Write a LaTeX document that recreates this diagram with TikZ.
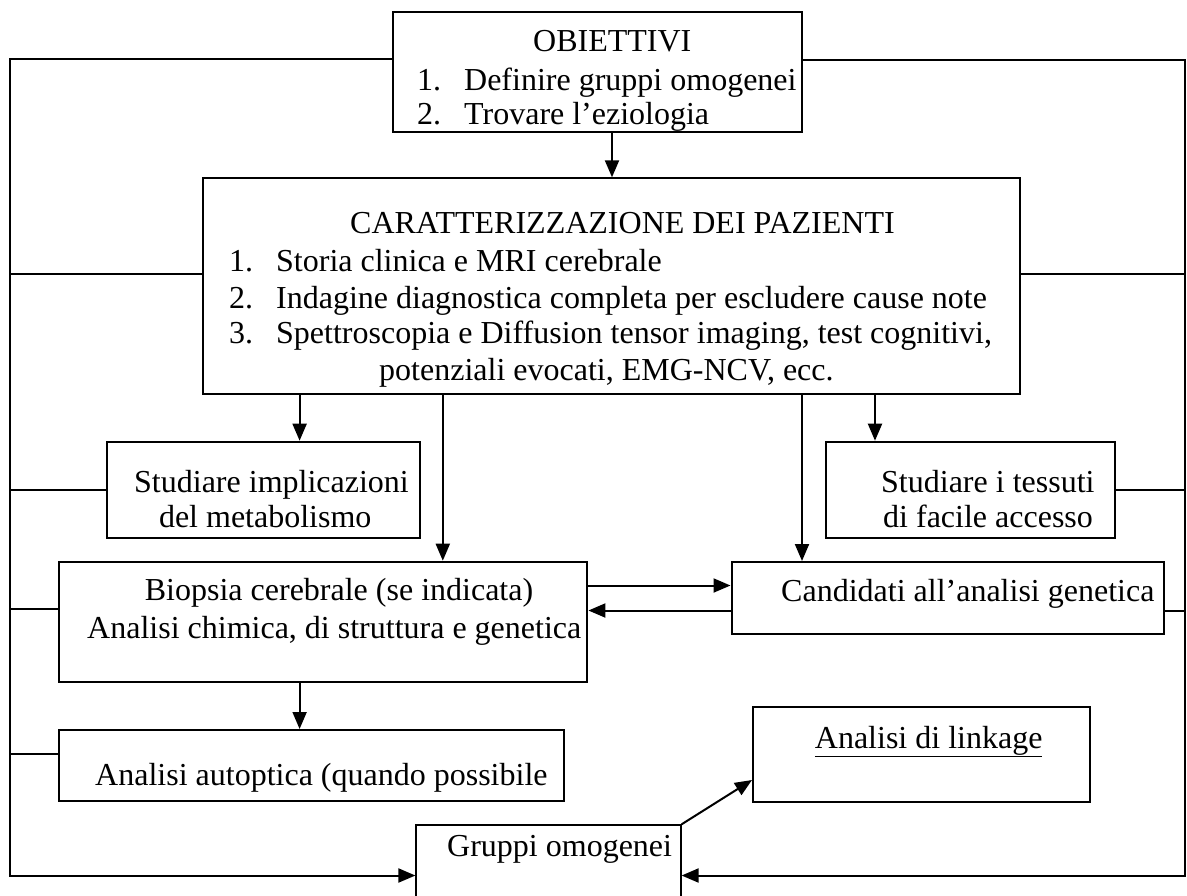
\documentclass[tikz,border=0pt]{standalone}
\usepackage{fontspec}
\setmainfont{Liberation Serif}
\usetikzlibrary{arrows.meta}
\begin{document}
\begin{tikzpicture}[x=1pt,y=-1pt,
  box/.style={draw, line width=2pt, inner sep=0pt},
  txt/.style={inner sep=0pt, anchor=base west, font=\fontsize{32}{37}\selectfont},
  wire/.style={line width=2pt},
  arr/.style={wire, -{Triangle[length=17pt,width=14pt]}}]

\path[use as bounding box, clip] (0,0) rectangle (1187,895);

% boxes
\node[box, minimum width=409pt,   minimum height=120pt]   (obj) at (597.5,71.7) {};
\node[box, minimum width=816.5pt, minimum height=215.7pt] (car) at (611.25,286.15) {};
\node[box, minimum width=313pt,   minimum height=96.3pt]  (met) at (263.5,489.85) {};
\node[box, minimum width=288.7pt, minimum height=96.3pt]  (tes) at (970.35,489.85) {};
\node[box, minimum width=528.8pt, minimum height=120pt]   (bio) at (323,621.7) {};
\node[box, minimum width=432.5pt, minimum height=71.5pt]  (can) at (947.75,597.75) {};
\node[box, minimum width=505.1pt, minimum height=71pt]    (aut) at (311.15,765.5) {};
\node[box, minimum width=337pt,   minimum height=95.3pt]  (lnk) at (921.5,754.35) {};
\node[box, minimum width=264.2pt, minimum height=89.4pt]  (grp) at (548.5,870) {};

% texts
\node[txt] (objt) at (533,51) {OBIETTIVI};
\node[txt] (obj1) at (417,90) {\makebox[47pt][l]{1.}Definire gruppi omogenei};
\node[txt] (obj2) at (417,124) {\makebox[47pt][l]{2.}Trovare l’eziologia};

\node[txt] (cart) at (350,233) {CARATTERIZZAZIONE DEI PAZIENTI};
\node[txt] (car1) at (229,271) {\makebox[47pt][l]{1.}Storia clinica e MRI cerebrale};
\node[txt] (car2) at (229,308) {\makebox[47pt][l]{2.}Indagine diagnostica completa per escludere cause note};
\node[txt] (car3) at (229,343) {\makebox[47pt][l]{3.}Spettroscopia e Diffusion tensor imaging, test cognitivi,};
\node[txt] (car4) at (379,380) {potenziali evocati, EMG-NCV, ecc.};

\node[txt] (met1) at (134,492) {Studiare implicazioni};
\node[txt] (met2) at (158.8,527) {del metabolismo};

\node[txt] (tes1) at (881,492) {Studiare i tessuti};
\node[txt] (tes2) at (883,527) {di facile accesso};

\node[txt] (bio1) at (144.7,600) {Biopsia cerebrale (se indicata)};
\node[txt] (bio2) at (87,638) {Analisi chimica, di struttura e genetica};

\node[txt] (can1) at (781,601) {Candidati all’analisi genetica};

\node[txt] (aut1) at (95,785) {Analisi autoptica (quando possibile};

\node[txt] (lnk1) at (814.7,748) {\underline{Analisi di linkage}};

\node[txt] (grp1) at (447,856) {Gruppi omogenei};

% bus ends
\coordinate (Lb) at (9.5,875.5);
\coordinate (Rb) at (1185,875.5);

% left bus
\draw[arr] (obj.west |- 0,59) -| (Lb) -- (grp.west |- Lb);
\draw[wire] (car.west |- 0,274) -- (Lb |- 0,274);
\draw[wire] (met.west |- 0,490) -- (Lb |- 0,490);
\draw[wire] (bio.west |- 0,609) -- (Lb |- 0,609);
\draw[wire] (aut.west |- 0,754) -- (Lb |- 0,754);

% right bus
\draw[arr] (obj.east |- 0,60) -| (Rb) -- (grp.east |- Rb);
\draw[wire] (car.east |- 0,274) -- (Rb |- 0,274);
\draw[wire] (tes.east |- 0,490) -- (Rb |- 0,490);
\draw[wire] (can.east |- 0,610.5) -- (Rb |- 0,610.5);

% downward flow
\draw[arr] (obj.south -| 612,0) -- (car.north -| 612,0);
\draw[arr] (car.south -| 299.6,0) -- (met.north -| 299.6,0);
\draw[arr] (car.south -| 442.8,0) -- (bio.north -| 442.8,0);
\draw[arr] (car.south -| 802,0) -- (can.north -| 802,0);
\draw[arr] (car.south -| 875,0) -- (tes.north -| 875,0);
\draw[arr] (bio.south -| 299.6,0) -- (aut.north -| 299.6,0);

% exchange between biopsy and genetic candidates
\draw[arr] (bio.east |- 0,585.5) -- (can.west |- 0,585.5);
\draw[arr] (can.west |- 0,610.5) -- (bio.east |- 0,610.5);

% towards linkage analysis
\draw[arr] (grp.north east) -- (lnk.west |- 0,780);
\end{tikzpicture}
\end{document}
